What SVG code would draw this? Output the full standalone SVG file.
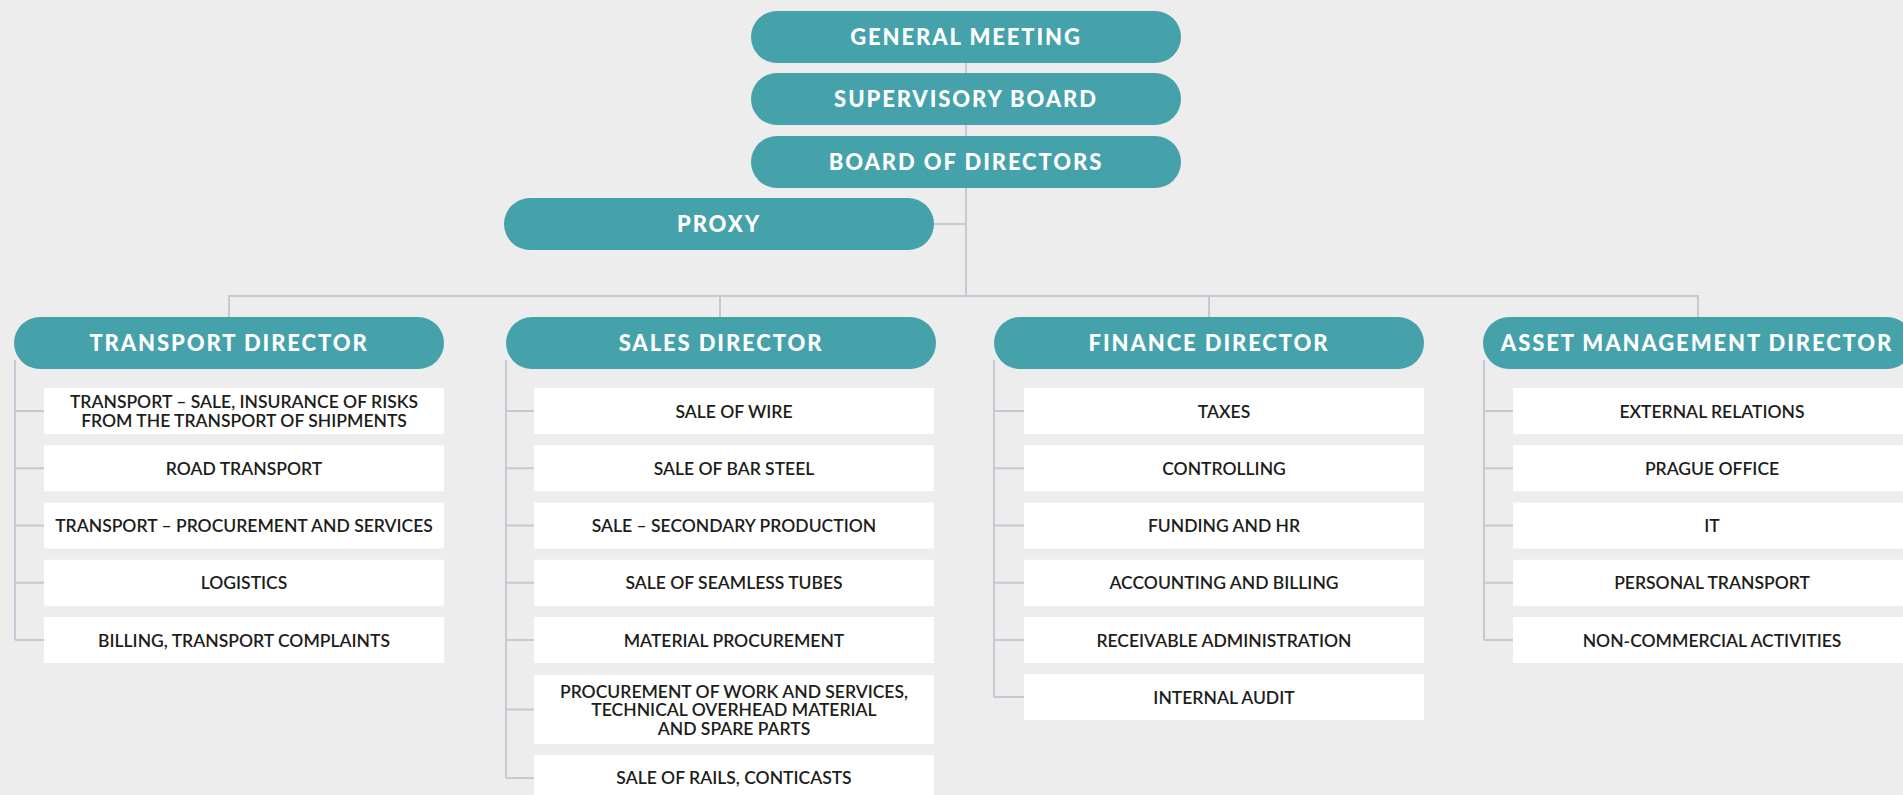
<svg xmlns="http://www.w3.org/2000/svg" width="1903" height="795" viewBox="0 0 1903 795">
  <style>
    .bg { fill: #ededed; }
    .pill { fill: #45a2aa; }
    .pill-text { font-family: Lato, "Liberation Sans", sans-serif; font-weight: 900; font-size: 22px; letter-spacing: 1.9px; fill: #ffffff; text-anchor: middle; }
    .box { fill: #ffffff; }
    .box-text { font-family: Lato, "Liberation Sans", sans-serif; font-weight: 600; font-size: 17.5px; fill: #1d1d1b; text-anchor: middle; }
    .link { stroke: #c4c9d4; stroke-width: 2; fill: none; }
  </style>

  <rect class="bg" x="0" y="0" width="1903" height="795"/>

  <!-- connector lines -->
  <g id="connectors">
    <line class="link" x1="966" y1="62" x2="966" y2="297"/>
    <line class="link" x1="933" y1="224" x2="966" y2="224"/>
    <line class="link" x1="228" y1="296" x2="1699" y2="296"/>
    <line class="link" x1="229" y1="296" x2="229" y2="318"/>
    <line class="link" x1="720" y1="296" x2="720" y2="318"/>
    <line class="link" x1="1209" y1="296" x2="1209" y2="318"/>
    <line class="link" x1="1698" y1="296" x2="1698" y2="318"/>

    <!-- transport branch -->
    <path class="link" d="M15 360 V640 M15 411 H44 M15 468.25 H44 M15 525.5 H44 M15 582.75 H44 M15 640 H44"/>
    <!-- sales branch -->
    <path class="link" d="M506 360 V778 M506 411 H534 M506 468.25 H534 M506 525.5 H534 M506 582.75 H534 M506 640 H534 M506 709.5 H534 M506 778 H534"/>
    <!-- finance branch -->
    <path class="link" d="M994 360 V697 M994 411 H1024 M994 468.25 H1024 M994 525.5 H1024 M994 582.75 H1024 M994 640 H1024 M994 697 H1024"/>
    <!-- asset management branch -->
    <path class="link" d="M1484 360 V640 M1484 411 H1513 M1484 468.25 H1513 M1484 525.5 H1513 M1484 582.75 H1513 M1484 640 H1513"/>
  </g>

  <!-- governing bodies -->
  <g id="general-meeting">
    <rect class="pill" x="751" y="11" width="430" height="52" rx="26"/>
    <text class="pill-text" x="966" y="45">GENERAL MEETING</text>
  </g>
  <g id="supervisory-board">
    <rect class="pill" x="751" y="73" width="430" height="52" rx="26"/>
    <text class="pill-text" x="966" y="107">SUPERVISORY BOARD</text>
  </g>
  <g id="board-of-directors">
    <rect class="pill" x="751" y="136" width="430" height="52" rx="26"/>
    <text class="pill-text" x="966" y="170">BOARD OF DIRECTORS</text>
  </g>
  <g id="proxy">
    <rect class="pill" x="504" y="198" width="430" height="52" rx="26"/>
    <text class="pill-text" x="719" y="232">PROXY</text>
  </g>

  <!-- transport director -->
  <g id="transport-director">
    <rect class="pill" x="14" y="317" width="430" height="52" rx="26"/>
    <text class="pill-text" x="229" y="351">TRANSPORT DIRECTOR</text>
  </g>
  <g id="transport-sale">
    <rect class="box" x="44" y="388" width="400" height="46"/>
    <text class="box-text" x="244" y="408.3">TRANSPORT – SALE, INSURANCE OF RISKS</text>
    <text class="box-text" x="244" y="426.8">FROM THE TRANSPORT OF SHIPMENTS</text>
  </g>
  <g id="road-transport">
    <rect class="box" x="44" y="445.25" width="400" height="46"/>
    <text class="box-text" x="244" y="474.75">ROAD TRANSPORT</text>
  </g>
  <g id="transport-procurement">
    <rect class="box" x="44" y="502.5" width="400" height="46"/>
    <text class="box-text" x="244" y="532">TRANSPORT – PROCUREMENT AND SERVICES</text>
  </g>
  <g id="logistics">
    <rect class="box" x="44" y="559.75" width="400" height="46"/>
    <text class="box-text" x="244" y="589.25">LOGISTICS</text>
  </g>
  <g id="billing-complaints">
    <rect class="box" x="44" y="617" width="400" height="46"/>
    <text class="box-text" x="244" y="646.5">BILLING, TRANSPORT COMPLAINTS</text>
  </g>

  <!-- sales director -->
  <g id="sales-director">
    <rect class="pill" x="506" y="317" width="430" height="52" rx="26"/>
    <text class="pill-text" x="721" y="351">SALES DIRECTOR</text>
  </g>
  <g id="sale-of-wire">
    <rect class="box" x="534" y="388" width="400" height="46"/>
    <text class="box-text" x="734" y="417.5">SALE OF WIRE</text>
  </g>
  <g id="sale-of-bar-steel">
    <rect class="box" x="534" y="445.25" width="400" height="46"/>
    <text class="box-text" x="734" y="474.75">SALE OF BAR STEEL</text>
  </g>
  <g id="sale-secondary-production">
    <rect class="box" x="534" y="502.5" width="400" height="46"/>
    <text class="box-text" x="734" y="532">SALE – SECONDARY PRODUCTION</text>
  </g>
  <g id="sale-of-seamless-tubes">
    <rect class="box" x="534" y="559.75" width="400" height="46"/>
    <text class="box-text" x="734" y="589.25">SALE OF SEAMLESS TUBES</text>
  </g>
  <g id="material-procurement">
    <rect class="box" x="534" y="617" width="400" height="46"/>
    <text class="box-text" x="734" y="646.5">MATERIAL PROCUREMENT</text>
  </g>
  <g id="procurement-of-work">
    <rect class="box" x="534" y="675" width="400" height="69"/>
    <text class="box-text" x="734" y="697.5">PROCUREMENT OF WORK AND SERVICES,</text>
    <text class="box-text" x="734" y="716">TECHNICAL OVERHEAD MATERIAL</text>
    <text class="box-text" x="734" y="734.5">AND SPARE PARTS</text>
  </g>
  <g id="sale-of-rails">
    <rect class="box" x="534" y="755" width="400" height="46"/>
    <text class="box-text" x="734" y="784">SALE OF RAILS, CONTICASTS</text>
  </g>

  <!-- finance director -->
  <g id="finance-director">
    <rect class="pill" x="994" y="317" width="430" height="52" rx="26"/>
    <text class="pill-text" x="1209" y="351">FINANCE DIRECTOR</text>
  </g>
  <g id="taxes">
    <rect class="box" x="1024" y="388" width="400" height="46"/>
    <text class="box-text" x="1224" y="417.5">TAXES</text>
  </g>
  <g id="controlling">
    <rect class="box" x="1024" y="445.25" width="400" height="46"/>
    <text class="box-text" x="1224" y="474.75">CONTROLLING</text>
  </g>
  <g id="funding-and-hr">
    <rect class="box" x="1024" y="502.5" width="400" height="46"/>
    <text class="box-text" x="1224" y="532">FUNDING AND HR</text>
  </g>
  <g id="accounting-and-billing">
    <rect class="box" x="1024" y="559.75" width="400" height="46"/>
    <text class="box-text" x="1224" y="589.25">ACCOUNTING AND BILLING</text>
  </g>
  <g id="receivable-administration">
    <rect class="box" x="1024" y="617" width="400" height="46"/>
    <text class="box-text" x="1224" y="646.5">RECEIVABLE ADMINISTRATION</text>
  </g>
  <g id="internal-audit">
    <rect class="box" x="1024" y="674" width="400" height="46"/>
    <text class="box-text" x="1224" y="703.5">INTERNAL AUDIT</text>
  </g>

  <!-- asset management director -->
  <g id="asset-management-director">
    <rect class="pill" x="1483" y="317" width="430" height="52" rx="26"/>
    <text class="pill-text" x="1697" y="351">ASSET MANAGEMENT DIRECTOR</text>
  </g>
  <g id="external-relations">
    <rect class="box" x="1513" y="388" width="400" height="46"/>
    <text class="box-text" x="1712" y="417.5">EXTERNAL RELATIONS</text>
  </g>
  <g id="prague-office">
    <rect class="box" x="1513" y="445.25" width="400" height="46"/>
    <text class="box-text" x="1712" y="474.75">PRAGUE OFFICE</text>
  </g>
  <g id="it">
    <rect class="box" x="1513" y="502.5" width="400" height="46"/>
    <text class="box-text" x="1712" y="532">IT</text>
  </g>
  <g id="personal-transport">
    <rect class="box" x="1513" y="559.75" width="400" height="46"/>
    <text class="box-text" x="1712" y="589.25">PERSONAL TRANSPORT</text>
  </g>
  <g id="non-commercial-activities">
    <rect class="box" x="1513" y="617" width="400" height="46"/>
    <text class="box-text" x="1712" y="646.5">NON-COMMERCIAL ACTIVITIES</text>
  </g>
</svg>
